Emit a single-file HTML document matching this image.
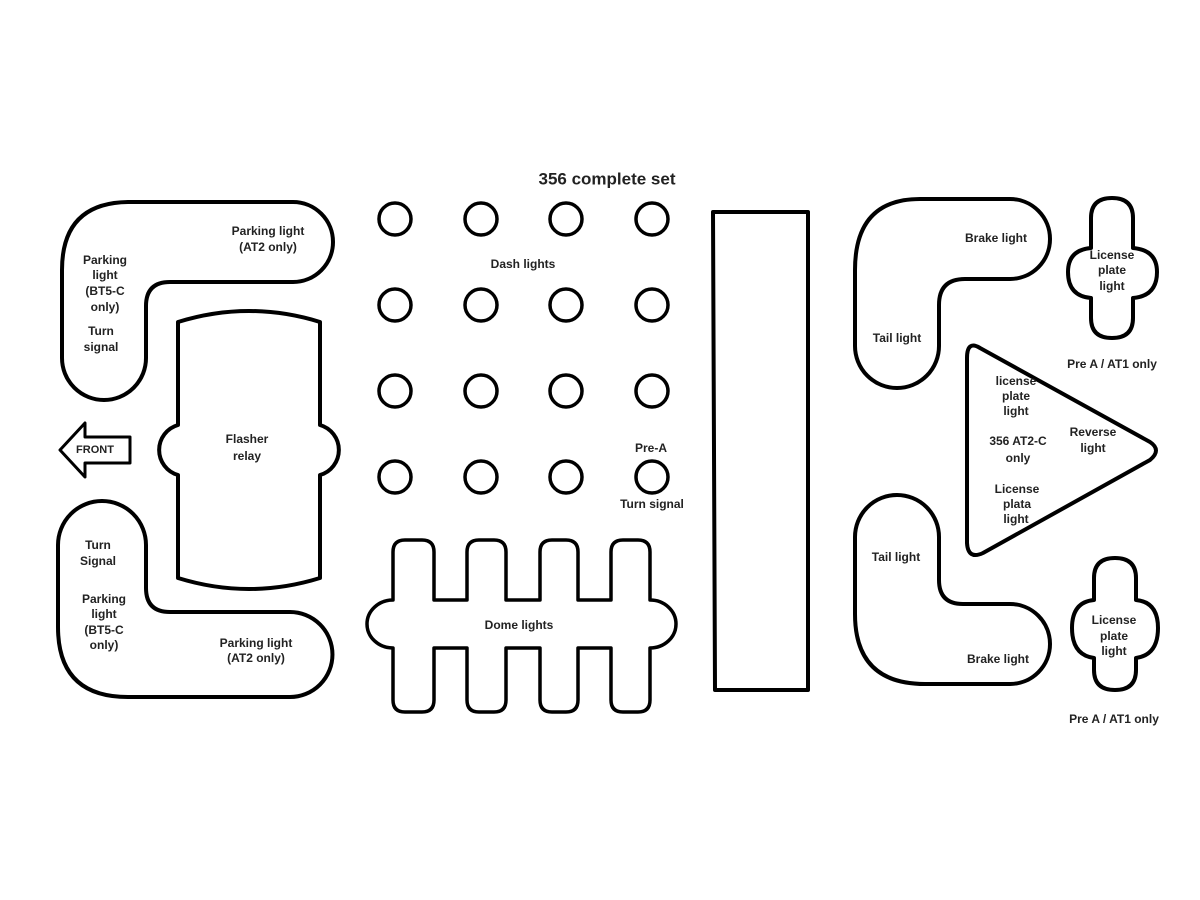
<!DOCTYPE html>
<html><head><meta charset="utf-8"><style>
html,body{margin:0;padding:0;background:#fff;}
svg{display:block}
text{font-family:"Liberation Sans",sans-serif;font-size:12px;font-weight:bold;fill:#222;text-anchor:middle;dominant-baseline:middle}
</style></head><body>
<svg width="1200" height="900" viewBox="0 0 1200 900" xmlns="http://www.w3.org/2000/svg">
<g fill="none" stroke="#000" stroke-width="4" stroke-linejoin="round">
<path d="M130,202 H293 A40,40 0 0 1 293,282 H170 Q146,282 146,306 V358 A42,42 0 0 1 62,358 V270 Q62,202 130,202 Z"/>
<path d="M58,545 A44,44 0 0 1 146,545 V588 Q146,612 170,612 H290 A42.5,42.5 0 0 1 290,697 H128 Q58,697 58,627 Z"/>
<path d="M178,322 Q249,300 320,322 V425 A26,26 0 0 1 320,475 V578 Q249,600 178,578 V475 A26,26 0 0 1 178,425 Z"/>
<path d="M60,450 L85,423 V437 H130 V463 H85 V477 Z" stroke-width="3"/>
<g stroke-width="3.5">
<circle cx="395" cy="219" r="16"/><circle cx="481" cy="219" r="16"/><circle cx="566" cy="219" r="16"/><circle cx="652" cy="219" r="16"/>
<circle cx="395" cy="305" r="16"/><circle cx="481" cy="305" r="16"/><circle cx="566" cy="305" r="16"/><circle cx="652" cy="305" r="16"/>
<circle cx="395" cy="391" r="16"/><circle cx="481" cy="391" r="16"/><circle cx="566" cy="391" r="16"/><circle cx="652" cy="391" r="16"/>
<circle cx="395" cy="477" r="16"/><circle cx="481" cy="477" r="16"/><circle cx="566" cy="477" r="16"/><circle cx="652" cy="477" r="16"/>
</g>
<path d="M393,552 Q393,540 405,540 H422 Q434,540 434,552 V600 H467 V552 Q467,540 479,540 H494 Q506,540 506,552 V600 H540 V552 Q540,540 552,540 H566 Q578,540 578,552 V600 H611 V552 Q611,540 623,540 H638 Q650,540 650,552 V600 A26,24 0 0 1 650,648 V700 Q650,712 638,712 H623 Q611,712 611,700 V648 H578 V700 Q578,712 566,712 H552 Q540,712 540,700 V648 H506 V700 Q506,712 494,712 H479 Q467,712 467,700 V648 H434 V700 Q434,712 422,712 H405 Q393,712 393,700 V648 A26,24 0 0 1 393,600 Z" stroke-width="3.5"/>
<path d="M713,212 L808,212 L808,690 L715,690 Z"/>
<path d="M920,199 H1010 A40,40 0 0 1 1010,279 H965 Q939,279 939,305 V346 A42,42 0 0 1 855,346 V270 Q855,199 920,199 Z"/>
<path d="M855,537 A42,42 0 0 1 939,537 V580 Q939,604 963,604 H1010 A40,40 0 0 1 1010,684 H925 Q855,684 855,614 Z"/>
<path d="M980,348 Q967,340 967,358 V543 Q968,560 983,553 L1150,460 Q1162,450 1150,442 Z"/>
<path d="M1091,218 Q1091,198 1112,198 Q1133,198 1133,218 V248 Q1157,250 1157,272 Q1157,296 1133,298 V318 Q1133,338 1112,338 Q1091,338 1091,318 V298 Q1068,296 1068,272 Q1068,250 1091,248 Z"/>
<path d="M1094,578 Q1094,558 1115,558 Q1136,558 1136,578 V600 Q1158,602 1158,628 Q1158,655 1136,658 V670 Q1136,690 1115,690 Q1094,690 1094,670 V658 Q1072,655 1072,628 Q1072,602 1094,600 Z"/>
</g>
<text x="607" y="180" style="font-size:17px">356 complete set</text>
<text x="268" y="232">Parking light</text><text x="268" y="248">(AT2 only)</text>
<text x="105" y="261">Parking</text><text x="105" y="276">light</text><text x="105" y="292">(BT5-C</text><text x="105" y="308">only)</text>
<text x="101" y="332">Turn</text><text x="101" y="348">signal</text>
<text x="247" y="440">Flasher</text><text x="247" y="457">relay</text>
<text x="95" y="450" style="font-size:11px">FRONT</text>
<text x="98" y="546">Turn</text><text x="98" y="562">Signal</text>
<text x="104" y="600">Parking</text><text x="104" y="615">light</text><text x="104" y="631">(BT5-C</text><text x="104" y="646">only)</text>
<text x="256" y="644">Parking light</text><text x="256" y="659">(AT2 only)</text>
<text x="523" y="265">Dash lights</text>
<text x="651" y="449">Pre-A</text><text x="652" y="505">Turn signal</text>
<text x="519" y="626">Dome lights</text>
<text x="996" y="239">Brake light</text><text x="897" y="339">Tail light</text>
<text x="1112" y="256">License</text><text x="1112" y="271">plate</text><text x="1112" y="287">light</text>
<text x="1112" y="365">Pre A / AT1 only</text>
<text x="1016" y="382">license</text><text x="1016" y="397">plate</text><text x="1016" y="412">light</text>
<text x="1018" y="442">356 AT2-C</text><text x="1018" y="459">only</text>
<text x="1017" y="490">License</text><text x="1017" y="505">plata</text><text x="1016" y="520">light</text>
<text x="1093" y="433">Reverse</text><text x="1093" y="449">light</text>
<text x="896" y="558">Tail light</text><text x="998" y="660">Brake light</text>
<text x="1114" y="621">License</text><text x="1114" y="637">plate</text><text x="1114" y="652">light</text>
<text x="1114" y="720">Pre A / AT1 only</text>
</svg>
</body></html>
